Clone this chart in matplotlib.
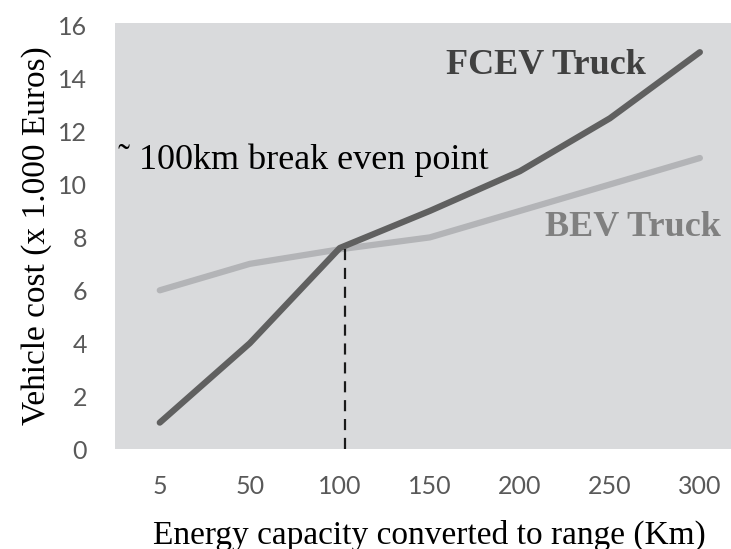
import matplotlib
matplotlib.use('Agg')
import matplotlib.pyplot as plt

# data
ranges = ['5', '50', '100', '150', '200', '250', '300']
fcev = [1, 4, 7.6, 9, 10.5, 12.5, 15]
bev = [6, 7, 7.55, 8, 9, 10, 11]
break_even_x = 2.06
break_even_y = 7.75

serif = 'Liberation Serif'

fig = plt.figure(figsize=(7.31, 5.49), dpi=100)
ax = fig.add_axes([0.157, 0.182, 0.862, 0.776])
ax.set_facecolor('#d9dadc')

x = range(len(ranges))
ax.plot(x, bev, color='#b3b4b7', lw=4.5, solid_capstyle='round', solid_joinstyle='round')
ax.plot(x, fcev, color='#606060', lw=4.5, solid_capstyle='round', solid_joinstyle='round')
ax.plot([break_even_x, break_even_x], [0, break_even_y], color='#1a1a1a',
        lw=1.6, dashes=(5, 3.5))

ax.set_xlim(-0.5, 6.5)
ax.set_ylim(0, 16.1)
ax.set_xticks(list(x))
ax.set_xticklabels(ranges)
ax.set_yticks(range(0, 17, 2))
ax.tick_params(length=0, labelsize=18, labelcolor='#595959')
ax.tick_params(axis='x', pad=19)
ax.tick_params(axis='y', pad=20)
for lbl in ax.get_xticklabels() + ax.get_yticklabels():
    lbl.set_family('Lato')
for s in ax.spines.values():
    s.set_visible(False)

ax.set_ylabel('Vehicle cost (x 1.000 Euros)', family=serif, fontsize=24, labelpad=4)
ax.set_xlabel('Energy capacity converted to range (Km)', family=serif, fontsize=24, labelpad=15)

ax.text(-0.46, 10.9, '\u02dc 100km break even point', family=serif, fontsize=26,
        ha='left', va='center', color='black')
ax.text(4.29, 14.5, 'FCEV Truck', family=serif, fontsize=26, fontweight='bold',
        ha='center', va='center', color='#404040')
ax.text(5.26, 8.36, 'BEV Truck', family=serif, fontsize=26, fontweight='bold',
        ha='center', va='center', color='#808080')

fig.savefig('out.png', dpi=100)
